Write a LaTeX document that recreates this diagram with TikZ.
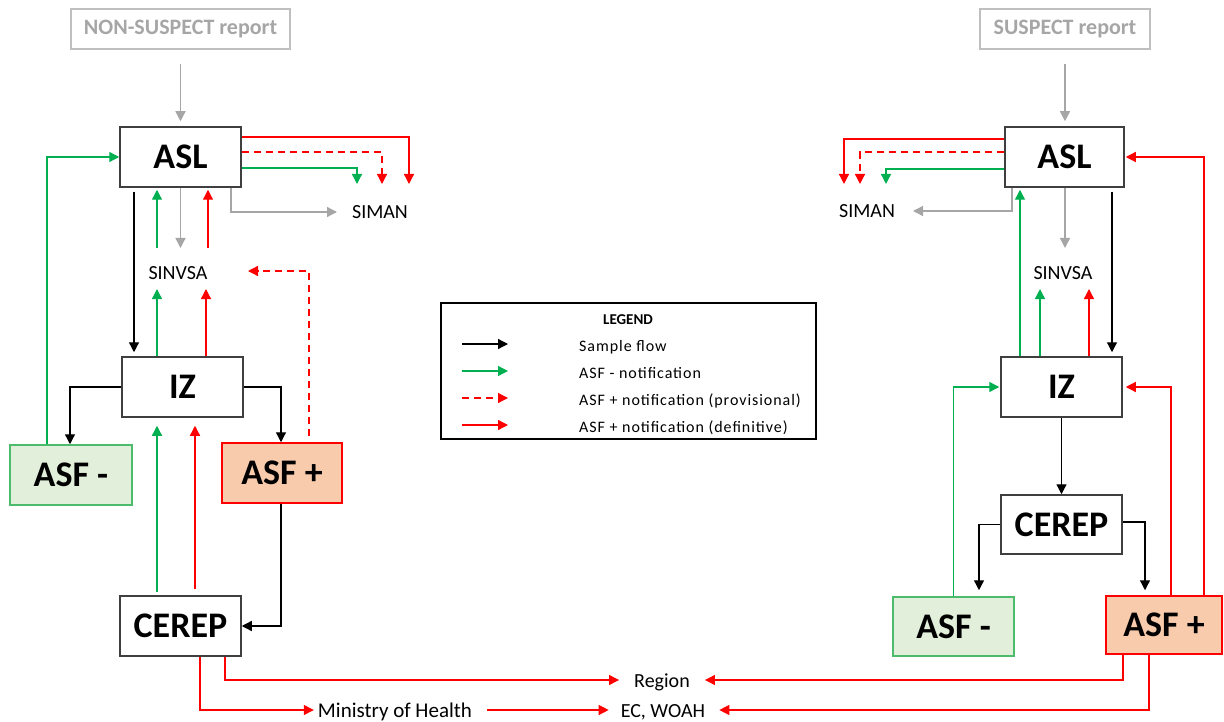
\documentclass[tikz,border=0pt]{standalone}
\usepackage{fontspec}
\setmainfont{Carlito}
\newfontfamily\legfont[LetterSpace=6]{Carlito}
\usetikzlibrary{arrows.meta,calc}
\definecolor{grn}{HTML}{00B050}
\definecolor{grnbox}{HTML}{4CBB6C}
\definecolor{negf}{HTML}{E2EFDA}
\definecolor{posf}{HTML}{F8CBAD}
\definecolor{redc}{HTML}{FF0000}
\definecolor{gryc}{HTML}{A6A6A6}
\definecolor{repb}{HTML}{BFBFBF}
\definecolor{boxc}{HTML}{3F3F3F}
\begin{document}
\begin{tikzpicture}[x=1pt,y=-1pt,
  >={Triangle[length=10pt,width=10pt]},
  box/.style={draw=boxc, line width=1.5pt, minimum width=121pt, minimum height=60pt, inner sep=0pt, font=\fontsize{36}{40}\selectfont\bfseries},
  negbox/.style={box, draw=grnbox, fill=negf},
  posbox/.style={box, draw=redc, fill=posf},
  rep/.style={draw=repb, line width=1.5pt, minimum height=40pt, inner sep=0pt, text=gryc, font=\fontsize{22}{26}\selectfont\bfseries},
  lbl/.style={inner sep=0pt, font=\fontsize{20}{24}\selectfont},
  leg/.style={inner sep=0pt, font=\fontsize{16}{19}\selectfont\legfont},
  blk/.style={draw=black, line width=1.3pt, ->},
  gry/.style={draw=gryc, line width=1.3pt, ->},
  grl/.style={draw=grn, line width=1.3pt, ->},
  rdl/.style={draw=redc, line width=1.3pt, ->},
  rdd/.style={rdl, dash pattern=on 7pt off 5pt}
]
\useasboundingbox (0,0) rectangle (1224,722);

% ---------- left column ----------
\node[rep, minimum width=219pt] (nsr) at (180.5,29) {NON-SUSPECT report};
\node[box] (asl1) at (180.5,157) {ASL};
\node[box] (iz1) at (182.5,387) {IZ};
\node[negbox, minimum width=122pt] (neg1) at (71,475) {ASF -\hspace{22pt}};
\node[posbox, minimum width=120pt] (pos1) at (282,473) {ASF +};
\node[box] (cer1) at (180.5,626) {CEREP};
\node[lbl] (siman1) at (380,212) {SIMAN};
\node[lbl] (sinvsa1) at (178,273) {SINVSA};

% ---------- right column ----------
\node[rep, minimum width=170pt] (sr) at (1065,29) {SUSPECT report};
\node[box, minimum width=119pt] (asl2) at (1064.5,157) {ASL};
\node[box] (iz2) at (1061.5,387) {IZ};
\node[box, minimum height=59pt] (cer2) at (1061.5,524.5) {CEREP};
\node[negbox, minimum height=59pt] (neg2) at (953.5,626.5) {ASF -\hspace{16pt}};
\node[posbox, minimum width=116pt, minimum height=58pt] (pos2) at (1164,625) {ASF +};
\node[lbl] (siman2) at (867,211) {SIMAN};
\node[lbl] (sinvsa2) at (1063,273) {SINVSA};

% ---------- bottom ----------
\node[lbl, anchor=base] (region) at (662,687) {Region};
\node[lbl, anchor=base, font=\fontsize{21}{25}\selectfont] (ministry) at (395,717) {Ministry of Health};
\node[lbl, anchor=base] (ec) at (663,717) {EC, WOAH};

% ---------- legend ----------
\node[draw=black, line width=1.5pt, minimum width=375pt, minimum height=136pt, inner sep=0pt] (legend) at (628.5,371) {};
\node[inner sep=0pt, font=\fontsize{15}{18}\selectfont\bfseries] (legt) at (628,320) {LEGEND};
\node[leg, anchor=base west] (l1) at (579,351) {Sample flow};
\node[leg, anchor=base west] (l2) at (579,378) {ASF - notification};
\node[leg, anchor=base west] (l3) at (579,405) {ASF + notification (provisional)};
\node[leg, anchor=base west] (l4) at (579,432) {ASF + notification (definitive)};
\draw[blk] ([xshift=-117pt,yshift=7pt]l1.base west) -- ([xshift=-71pt,yshift=7pt]l1.base west);
\draw[grl] ([xshift=-117pt,yshift=7pt]l2.base west) -- ([xshift=-71pt,yshift=7pt]l2.base west);
\draw[rdd] ([xshift=-117pt,yshift=7pt]l3.base west) -- ([xshift=-71pt,yshift=7pt]l3.base west);
\draw[rdl] ([xshift=-117pt,yshift=7pt]l4.base west) -- ([xshift=-71pt,yshift=7pt]l4.base west);

% ---------- left connectors ----------
\draw[gry] ([yshift=-14pt]nsr.south) -- ([yshift=5pt]asl1.north);
\draw[rdl] (asl1.east |- 0,137) -| ([xshift=29pt,yshift=28pt]siman1.center);
\draw[rdd] (asl1.east |- 0,152) -| ([xshift=2pt,yshift=28pt]siman1.center);
\draw[grl] (asl1.east |- 0,168) -| ([xshift=-23pt,yshift=28pt]siman1.center);
\draw[gry] ([xshift=50.5pt]asl1.south) |- ([xshift=-43pt]siman1.center);
\draw[blk] ([xshift=-46.5pt,yshift=-4pt]asl1.south) -- ([xshift=-48.5pt,yshift=4pt]iz1.north);
\draw[grl] ([xshift=-21pt,yshift=25pt]sinvsa1.center) -- ([xshift=-23.5pt,yshift=-2pt]asl1.south);
\draw[gry] (asl1.south) -- ([xshift=2.5pt,yshift=25pt]sinvsa1.center);
\draw[rdl] ([xshift=30pt,yshift=25pt]sinvsa1.center) -- ([xshift=27.5pt,yshift=-2pt]asl1.south);
\draw[grl] ([xshift=-25.5pt]iz1.north) -- ([xshift=-21pt,yshift=-16pt]sinvsa1.center);
\draw[rdl] ([xshift=23.5pt]iz1.north) -- ([xshift=28pt,yshift=-16pt]sinvsa1.center);
\draw[rdd] ([xshift=27pt,yshift=6pt]pos1.north) |- ([xshift=70pt,yshift=2pt]sinvsa1.center);
\draw[blk] (iz1.west) -| ([xshift=-1pt]neg1.north);
\draw[blk] (iz1.east) -| ([xshift=-1pt]pos1.north);
\draw[grl] ([xshift=-24pt]neg1.north) |- (asl1.west);
\draw[grl] ([xshift=-23.5pt,yshift=3pt]cer1.north) -- ([xshift=-25.5pt,yshift=-8pt]iz1.south);
\draw[rdl] ([xshift=14.5pt,yshift=6pt]cer1.north) -- ([xshift=12.5pt,yshift=-8pt]iz1.south);
\draw[blk] ([xshift=-1pt]pos1.south) |- (cer1.east);
\draw[rdl] ([xshift=44.5pt]cer1.south) |- ([xshift=-15pt,yshift=7pt]region.base west);
\draw[rdl] ([xshift=19.5pt]cer1.south) |- ([xshift=-4pt,yshift=7pt]ministry.base west);
\draw[rdl] ([xshift=15pt,yshift=7pt]ministry.base east) -- ([xshift=-12pt,yshift=7pt]ec.base west);

% ---------- right connectors ----------
\draw[gry] ([yshift=-14pt]sr.south) -- ([yshift=5pt,xshift=0.5pt]asl2.north);
\draw[rdl] (asl2.west |- 0,139) -| ([xshift=-23pt,yshift=27pt]siman2.center);
\draw[rdd] (asl2.west |- 0,152) -| ([xshift=-7pt,yshift=27pt]siman2.center);
\draw[grl] (asl2.west |- 0,169) -| ([xshift=19pt,yshift=27pt]siman2.center);
\draw[gry] ([xshift=-52.5pt]asl2.south) |- ([xshift=46pt]siman2.center);
\draw[gry] ([xshift=0.5pt]asl2.south) -- ([xshift=2pt,yshift=25pt]sinvsa2.center);
\draw[grl] ([xshift=-41.5pt]iz2.north) -- ([xshift=-44.5pt,yshift=-2pt]asl2.south);
\draw[blk] ([xshift=47.5pt,yshift=-4pt]asl2.south) -- ([xshift=50.5pt,yshift=4pt]iz2.north);
\draw[rdl] ([xshift=40pt]pos2.north) |- ([xshift=1pt]asl2.east);
\draw[grl] ([xshift=-21.5pt]iz2.north) -- ([xshift=-23pt,yshift=-16pt]sinvsa2.center);
\draw[rdl] ([xshift=27.5pt]iz2.north) -- ([xshift=26pt,yshift=-16pt]sinvsa2.center);
\draw[grl] (neg2.north) |- ([xshift=-1pt]iz2.west);
\draw[rdl] ([xshift=7pt]pos2.north) |- ([xshift=3pt]iz2.east);
\draw[blk] (iz2.south) -- (cer2.north);
\draw[blk] (cer2.west) -| ([xshift=25.5pt,yshift=6pt]neg2.north);
\draw[blk] ([yshift=2.5pt]cer2.east) -| ([xshift=-19pt,yshift=5pt]pos2.north);
\draw[rdl] ([xshift=-41pt]pos2.south) |- ([xshift=15pt,yshift=7pt]region.base east);
\draw[rdl] ([xshift=-15pt]pos2.south) |- ([xshift=14pt,yshift=7pt]ec.base east);
\end{tikzpicture}
\end{document}
